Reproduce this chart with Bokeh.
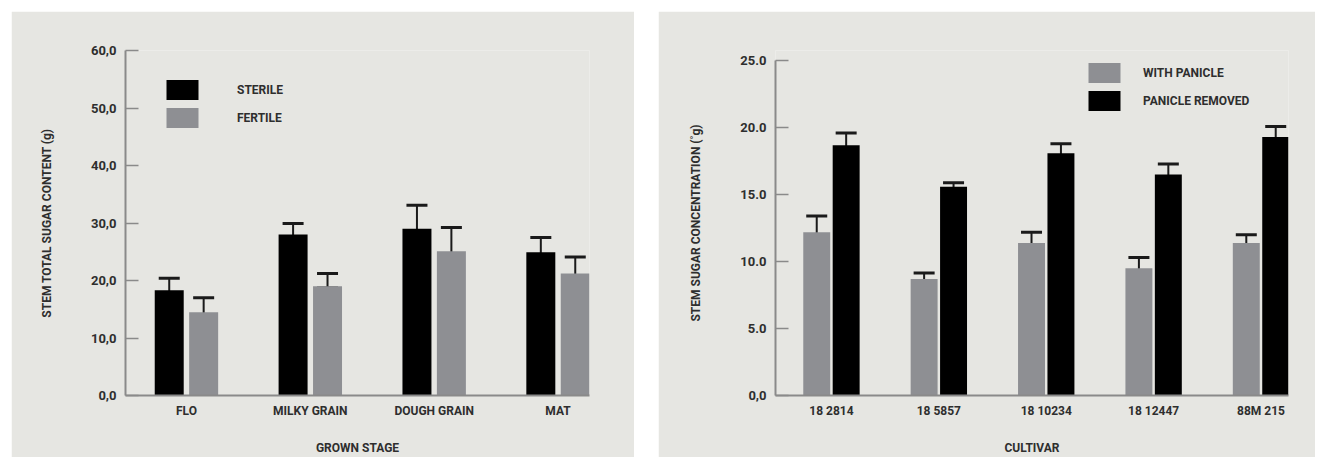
from bokeh.plotting import figure
from bokeh.models import (ColumnDataSource, Range1d, FixedTicker, Whisker, TeeHead,
                          Legend, LegendItem)
from bokeh.layouts import row
from bokeh.embed import file_html
from bokeh.resources import INLINE

# ---------------- data ----------------
stages = ["FLO", "MILKY GRAIN", "DOUGH GRAIN", "MAT"]
sterile = [18.3, 28.0, 29.0, 24.9]
sterile_upper = [20.4, 29.9, 33.1, 27.5]
sterile_lower = [16.2, 24.0, 28.3, 22.7]
fertile = [14.5, 19.0, 25.1, 21.2]
fertile_upper = [17.0, 21.2, 29.2, 24.1]
fertile_lower = [11.0, 18.7, 21.3, 18.3]
left_ticks = [0, 10, 20, 30, 40, 50, 60]
left_tick_labels = ["0,0", "10,0", "20,0", "30,0", "40,0", "50,0", "60,0"]

cultivars = ["18 2814", "18 5857", "18 10234", "18 12447", "88M 215"]
with_panicle = [12.2, 8.7, 11.4, 9.5, 11.4]
with_upper = [13.4, 9.15, 12.2, 10.3, 12.0]
with_lower = [11.3, 8.25, 10.7, 8.95, 10.6]
removed = [18.7, 15.6, 18.1, 16.5, 19.3]
removed_upper = [19.6, 15.9, 18.8, 17.3, 20.1]
removed_lower = [17.5, 13.2, 15.4, 14.8, 18.6]
right_ticks = [0, 5, 10, 15, 20, 25]
right_tick_labels = ["0,0", "5.0", "10.0", "15.0", "20.0", "25.0"]

# ---------------- style ----------------
BG = "#e6e6e2"
GRAY = "#8e8f93"
BLACK = "#000000"
AXIS = "#8a8a8a"
TXT = "#2e2e2e"
ERR = "#1a1a1a"
FONT = "Roboto"


def style(p, ticks, labels, cats, xlabel, ylabel):
    p.background_fill_color = BG
    p.border_fill_color = BG
    p.outline_line_color = None
    p.xgrid.visible = False
    p.ygrid.visible = False
    ya = p.yaxis[0]
    ya.ticker = FixedTicker(ticks=ticks)
    ya.bounds = (ticks[0], ticks[-1])
    ya.major_label_overrides = {t: l for t, l in zip(ticks, labels)}
    ya.minor_tick_line_color = None
    ya.major_tick_in = 13
    ya.major_tick_out = 0
    ya.major_tick_line_color = AXIS
    ya.major_tick_line_width = 1.5
    ya.axis_line_color = AXIS
    ya.axis_line_width = 2
    ya.major_label_standoff = 9
    ya.axis_label = ylabel
    ya.axis_label_standoff = 34
    ya.major_label_text_font_size = "13px"
    xa = p.xaxis[0]
    xa.ticker = FixedTicker(ticks=list(range(1, len(cats) + 1)))
    xa.major_label_overrides = {i + 1: c for i, c in enumerate(cats)}
    xa.minor_tick_line_color = None
    xa.major_tick_in = 0
    xa.major_tick_out = 0
    xa.axis_line_color = AXIS
    xa.axis_line_width = 2
    xa.major_label_standoff = 8
    xa.axis_label = xlabel
    xa.axis_label_standoff = 20
    xa.major_label_text_font_size = "12px"
    for a in (xa, ya):
        a.major_label_text_font = FONT
        a.major_label_text_font_style = "bold"
        a.major_label_text_color = TXT
        a.axis_label_text_font = FONT
        a.axis_label_text_font_style = "bold"
        a.axis_label_text_font_size = "12px"
        a.axis_label_text_color = TXT


def bars(p, xs, vals, up, lo, color, width):
    src = ColumnDataSource(dict(x=xs, top=vals, upper=up, lower=lo))
    r = p.vbar(x="x", top="top", width=width, bottom=0, source=src,
               fill_color=color, line_color=None)
    w = Whisker(source=src, base="x", upper="upper", lower="lower",
                line_color=ERR, line_width=2,
                upper_head=TeeHead(size=21, line_color=ERR, line_width=3),
                lower_head=TeeHead(size=21, line_color=ERR, line_width=3))
    p.add_layout(w)
    return r


def legend(p, items, loc, standoff):
    lg = Legend(items=items, location=loc, orientation="vertical",
                glyph_width=40, glyph_height=25, label_height=25,
                spacing=3, padding=0, margin=0, label_standoff=standoff,
                border_line_color=None, background_fill_alpha=0,
                label_text_font=FONT, label_text_font_style="bold",
                label_text_font_size="12px", label_text_color=TXT)
    p.add_layout(lg, "center")


# ---------------- left chart ----------------
p1 = figure(width=623, height=446, output_backend="svg", toolbar_location=None,
            x_range=Range1d(0.508, 4.254), y_range=Range1d(0, 60),
            min_border_left=114, min_border_right=45, min_border_top=39,
            min_border_bottom=62, margin=(11, 0, 0, 11))
style(p1, left_ticks, left_tick_labels, stages, "GROWN STAGE",
      "STEM TOTAL SUGAR CONTENT (g)")
xl = list(range(1, len(stages) + 1))
r_st = bars(p1, [x - 0.139 for x in xl], sterile, sterile_upper, sterile_lower, BLACK, 0.234)
r_fe = bars(p1, [x + 0.139 for x in xl], fertile, fertile_upper, fertile_lower, GRAY, 0.234)
legend(p1, [LegendItem(label="STERILE", renderers=[r_st]),
            LegendItem(label="FERTILE", renderers=[r_fe])], (37, 265), 35)

# ---------------- right chart ----------------
p2 = figure(width=657, height=446, output_backend="svg", toolbar_location=None,
            x_range=Range1d(0.479, 5.256), y_range=Range1d(0, 25.77),
            min_border_left=117, min_border_right=27, min_border_top=39,
            min_border_bottom=62, margin=(11, 0, 0, 24))
style(p2, right_ticks, right_tick_labels, cultivars, "CULTIVAR",
      "STEM SUGAR CONCENTRATION (˚g)")
xr = list(range(1, len(cultivars) + 1))
r_wp = bars(p2, [x - 0.137 for x in xr], with_panicle, with_upper, with_lower, GRAY, 0.251)
r_pr = bars(p2, [x + 0.137 for x in xr], removed, removed_upper, removed_lower, BLACK, 0.251)
legend(p2, [LegendItem(label="WITH PANICLE", renderers=[r_wp]),
            LegendItem(label="PANICLE REMOVED", renderers=[r_pr])], (309, 282), 19)

layout = row(p1, p2)
open("out.html", "w").write(file_html(layout, INLINE))
